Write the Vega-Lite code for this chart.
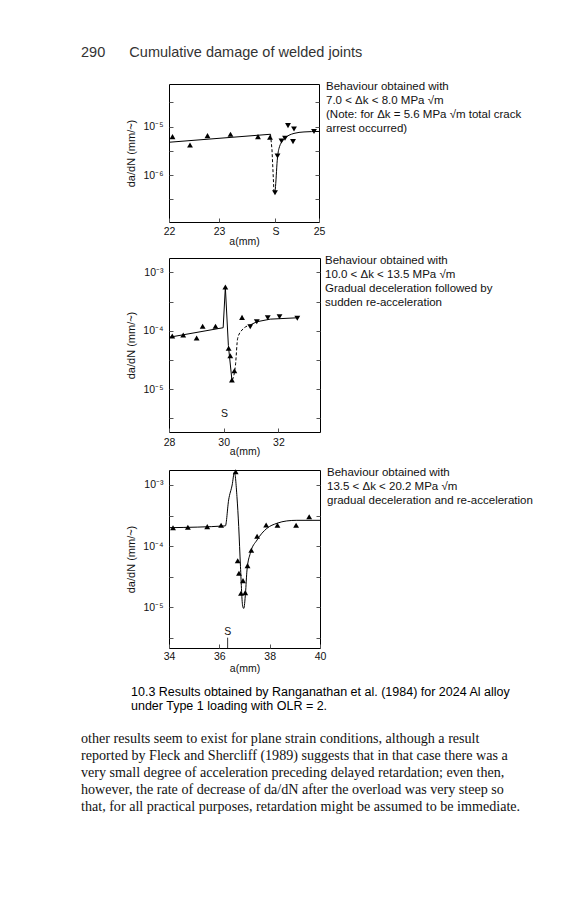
{
  "$schema": "https://vega.github.io/schema/vega-lite/v6.json",
  "background": "white",
  "padding": {"left": 81, "top": 44, "right": 5, "bottom": 5},
  "config": {
    "view": {"stroke": null},
    "font": "Liberation Sans",
    "axis": {
      "domain": false, "grid": false,
      "tickColor": "#555", "tickSize": -4, "tickWidth": 1,
      "labelFont": "Liberation Sans", "labelFontSize": 10.5, "labelColor": "#111",
      "titleFont": "Liberation Sans", "titleFontSize": 10.5, "titleFontWeight": "normal", "titleColor": "#111"
    }
  },
  "spacing": 4,
  "vconcat": [
    {
      "data": {"values": []}, "mark": "point", "width": 440, "height": 17,
      "title": {"text": "290\u00a0\u00a0\u00a0\u00a0\u00a0\u00a0Cumulative damage of welded joints", "anchor": "start", "frame": "group", "font": "Liberation Sans", "fontSize": 14.5, "fontWeight": "normal", "color": "#333", "offset": 0}
    },
    {
      "spacing": 0,
      "hconcat": [
        {"data": {"values": []}, "mark": "point", "width": 44, "height": 167},
        {
          "width": 150, "height": 138,
          "view": {"stroke": "black", "strokeWidth": 1},
          "data": {"values": [
            {"k": "up", "a": 22.07, "v": 6.21e-6}, {"k": "up", "a": 22.42, "v": 4.18e-6}, {"k": "up", "a": 22.77, "v": 6.52e-6},
            {"k": "up", "a": 23.23, "v": 6.95e-6}, {"k": "up", "a": 23.78, "v": 6.21e-6}, {"k": "up", "a": 24.02, "v": 6.03e-6},
            {"k": "down", "a": 24.17, "v": 2.47e-6}, {"k": "down", "a": 24.12, "v": 4.31e-7}, {"k": "down", "a": 24.25, "v": 5.06e-6},
            {"k": "down", "a": 24.32, "v": 5.75e-6}, {"k": "down", "a": 24.38, "v": 1.047e-5}, {"k": "down", "a": 24.5, "v": 8.95e-6},
            {"k": "down", "a": 24.48, "v": 4.9e-6}, {"k": "down", "a": 24.9, "v": 7.94e-6},
            {"k": "solid", "seg": "A", "a": 22, "v": 4.75e-6}, {"k": "solid", "seg": "A", "a": 24.03, "v": 6.95e-6},
            {"k": "dash", "seg": "D", "a": 24.03, "v": 6.95e-6}, {"k": "dash", "seg": "D", "a": 24.06, "v": 3.3e-6}, {"k": "dash", "seg": "D", "a": 24.1, "v": 4.31e-7},
            {"k": "solid", "seg": "B", "a": 24.12, "v": 4.31e-7}, {"k": "solid", "seg": "B", "a": 24.14, "v": 7.94e-7}, {"k": "solid", "seg": "B", "a": 24.16, "v": 1.74e-6},
            {"k": "solid", "seg": "B", "a": 24.2, "v": 3.55e-6}, {"k": "solid", "seg": "B", "a": 24.3, "v": 5.5e-6}, {"k": "solid", "seg": "B", "a": 24.5, "v": 7.24e-6},
            {"k": "solid", "seg": "B", "a": 24.7, "v": 7.76e-6}, {"k": "solid", "seg": "B", "a": 25, "v": 7.94e-6}
          ]},
          "layer": [
            {
              "encoding": {
                "x": {"field": "a", "type": "quantitative", "scale": {"domain": [22, 25], "nice": false, "zero": false},
                      "axis": {"values": [22, 23, 24.13, 25], "labelExpr": "datum.value == 24.13 ? 'S' : datum.label", "labelPadding": 8, "titlePadding": 0, "title": "a(mm)", "labelFlush": false}},
                "y": {"field": "v", "type": "quantitative", "scale": {"type": "log", "domain": [1.07e-7, 7.59e-5], "nice": false},
                      "axis": {"values": [3.162e-7, 1e-6, 3.162e-6, 1e-5, 3.162e-5], "labelExpr": "datum.value == 1e-6 ? '10⁻⁶' : datum.value == 1e-5 ? '10⁻⁵' : ''", "labelPadding": 10, "titlePadding": 6, "titleFontSize": 11, "title": "da/dN (mm/~)"}}
              },
              "layer": [
                {"transform": [{"filter": "datum.k == 'solid'"}], "mark": {"type": "line", "color": "black", "strokeWidth": 1, "interpolate": "monotone"}, "encoding": {"detail": {"field": "seg"}}},
                {"transform": [{"filter": "datum.k == 'dash'"}], "mark": {"type": "line", "color": "black", "strokeWidth": 1, "strokeDash": [3, 2]}, "encoding": {}},
                {"transform": [{"filter": "datum.k == 'up'"}], "mark": {"type": "point", "shape": "triangle-up", "filled": true, "color": "black", "size": 34, "opacity": 1}, "encoding": {}},
                {"transform": [{"filter": "datum.k == 'down'"}], "mark": {"type": "point", "shape": "triangle-down", "filled": true, "color": "black", "size": 34, "opacity": 1}, "encoding": {}}
              ]
            },
            {"transform": [{"filter": "datum.k == 'up'"}], "mark": {"type": "point", "opacity": 0},
             "encoding": {"y": {"field": "v", "type": "quantitative", "scale": {"type": "log", "domain": [1.07e-7, 7.59e-5], "nice": false},
               "axis": {"orient": "right", "labels": false, "title": null, "values": [3.162e-7, 1e-6, 3.162e-6, 1e-5, 3.162e-5]}}}}
          ],
          "resolve": {"axis": {"y": "independent"}}
        },
        {
          "data": {"values": []}, "mark": "point", "width": 200, "height": 1,
          "title": {"text": ["Behaviour obtained with", "7.0 < Δk < 8.0 MPa √m", "(Note: for Δk = 5.6 MPa √m  total crack", "arrest occurred)"], "orient": "bottom", "anchor": "start", "frame": "group", "align": "left", "baseline": "top", "offset": -4, "dx": 0, "font": "Liberation Sans", "fontSize": 11.5, "fontWeight": "normal", "lineHeight": 14, "color": "#111"}
        }
      ]
    },
    {
      "spacing": 0,
      "hconcat": [
        {"data": {"values": []}, "mark": "point", "width": 44, "height": 205},
        {
          "width": 151, "height": 174,
          "view": {"stroke": "black", "strokeWidth": 1},
          "data": {"values": [
            {"k": "up", "a": 28.12, "v": 8.15e-5}, {"k": "up", "a": 28.52, "v": 8.47e-5}, {"k": "up", "a": 29.01, "v": 7.53e-5},
            {"k": "up", "a": 29.23, "v": 1.194e-4}, {"k": "up", "a": 29.7, "v": 1.194e-4}, {"k": "up", "a": 30.06, "v": 5.62e-4},
            {"k": "up", "a": 30.18, "v": 5.01e-5}, {"k": "up", "a": 30.24, "v": 3.74e-5}, {"k": "up", "a": 30.3, "v": 1.436e-5},
            {"k": "up", "a": 30.39, "v": 2.07e-5}, {"k": "up", "a": 30.67, "v": 1.7e-4},
            {"k": "down", "a": 30.97, "v": 1.175e-4}, {"k": "down", "a": 31.21, "v": 1.43e-4}, {"k": "down", "a": 31.61, "v": 1.675e-4},
            {"k": "down", "a": 32.04, "v": 1.74e-4}, {"k": "down", "a": 32.69, "v": 1.637e-4},
            {"k": "solid", "seg": "A", "a": 28, "v": 7.74e-5}, {"k": "solid", "seg": "A", "a": 29.98, "v": 1.13e-4}, {"k": "solid", "seg": "A", "a": 30.06, "v": 5.62e-4},
            {"k": "solid", "seg": "A", "a": 30.17, "v": 5.62e-5}, {"k": "solid", "seg": "A", "a": 30.3, "v": 1.436e-5},
            {"k": "dash", "seg": "D", "a": 30.32, "v": 1.436e-5}, {"k": "dash", "seg": "D", "a": 30.43, "v": 2.59e-5}, {"k": "dash", "seg": "D", "a": 30.51, "v": 7.43e-5},
            {"k": "dash", "seg": "D", "a": 30.67, "v": 1.033e-4}, {"k": "dash", "seg": "D", "a": 30.97, "v": 1.259e-4},
            {"k": "solid", "seg": "B", "a": 30.97, "v": 1.259e-4}, {"k": "solid", "seg": "B", "a": 31.21, "v": 1.43e-4}, {"k": "solid", "seg": "B", "a": 31.7, "v": 1.585e-4},
            {"k": "solid", "seg": "B", "a": 32.73, "v": 1.675e-4},
            {"k": "S", "a": 30.03, "v": 3.75e-6, "t": "S"}
          ]},
          "layer": [
            {
              "encoding": {
                "x": {"field": "a", "type": "quantitative", "scale": {"domain": [28, 33.52], "nice": false, "zero": false},
                      "axis": {"values": [28, 30, 32], "labelPadding": 9.5, "titlePadding": -2, "title": "a(mm)", "labelFlush": false}},
                "y": {"field": "v", "type": "quantitative", "scale": {"type": "log", "domain": [1.845e-6, 1.77e-3], "nice": false},
                      "axis": {"values": [3.162e-6, 1e-5, 3.162e-5, 1e-4, 3.162e-4, 1e-3], "labelExpr": "datum.value == 1e-5 ? '10⁻⁵' : datum.value == 1e-4 ? '10⁻⁴' : datum.value == 1e-3 ? '10⁻³' : ''", "labelPadding": 10, "titlePadding": 6, "titleFontSize": 11, "title": "da/dN (mm/~)"}}
              },
              "layer": [
                {"transform": [{"filter": "datum.k == 'solid'"}], "mark": {"type": "line", "color": "black", "strokeWidth": 1}, "encoding": {"detail": {"field": "seg"}}},
                {"transform": [{"filter": "datum.k == 'dash'"}], "mark": {"type": "line", "color": "black", "strokeWidth": 1, "strokeDash": [3, 2], "interpolate": "monotone"}, "encoding": {}},
                {"transform": [{"filter": "datum.k == 'up'"}], "mark": {"type": "point", "shape": "triangle-up", "filled": true, "color": "black", "size": 34, "opacity": 1}, "encoding": {}},
                {"transform": [{"filter": "datum.k == 'down'"}], "mark": {"type": "point", "shape": "triangle-down", "filled": true, "color": "black", "size": 34, "opacity": 1}, "encoding": {}},
                {"transform": [{"filter": "datum.k == 'S'"}], "mark": {"type": "text", "font": "Liberation Sans", "fontSize": 10.5, "color": "#111"}, "encoding": {"text": {"field": "t"}}}
              ]
            },
            {"transform": [{"filter": "datum.k == 'up'"}], "mark": {"type": "point", "opacity": 0},
             "encoding": {"y": {"field": "v", "type": "quantitative", "scale": {"type": "log", "domain": [1.845e-6, 1.77e-3], "nice": false},
               "axis": {"orient": "right", "labels": false, "title": null, "values": [3.162e-6, 1e-5, 3.162e-5, 1e-4, 3.162e-4, 1e-3]}}}}
          ],
          "resolve": {"axis": {"y": "independent"}}
        },
        {
          "data": {"values": []}, "mark": "point", "width": 200, "height": 1,
          "title": {"text": ["Behaviour obtained with", "10.0 < Δk < 13.5 MPa √m", "Gradual deceleration followed by", "sudden re-acceleration"], "orient": "bottom", "anchor": "start", "frame": "group", "align": "left", "baseline": "top", "offset": -4, "dx": 4, "font": "Liberation Sans", "fontSize": 11.5, "fontWeight": "normal", "lineHeight": 14, "color": "#111"}
        }
      ]
    },
    {
      "spacing": 0,
      "hconcat": [
        {"data": {"values": []}, "mark": "point", "width": 44, "height": 212},
        {
          "width": 151, "height": 178,
          "view": {"stroke": "black", "strokeWidth": 1},
          "data": {"values": [
            {"k": "up", "a": 34.16, "v": 2.0e-4}, {"k": "up", "a": 34.75, "v": 2.03e-4}, {"k": "up", "a": 35.52, "v": 2.08e-4},
            {"k": "up", "a": 36.07, "v": 2.19e-4}, {"k": "up", "a": 36.65, "v": 1.652e-3}, {"k": "up", "a": 36.73, "v": 5.77e-5},
            {"k": "up", "a": 36.78, "v": 3.59e-5}, {"k": "up", "a": 36.86, "v": 1.687e-5}, {"k": "up", "a": 36.94, "v": 2.72e-5},
            {"k": "up", "a": 37.03, "v": 1.73e-5}, {"k": "up", "a": 37.12, "v": 4.79e-5}, {"k": "up", "a": 37.27, "v": 8.53e-5},
            {"k": "up", "a": 37.5, "v": 1.445e-4}, {"k": "up", "a": 37.86, "v": 2.21e-4}, {"k": "up", "a": 38.31, "v": 2.19e-4},
            {"k": "up", "a": 39.05, "v": 2.19e-4}, {"k": "up", "a": 39.57, "v": 3.03e-4},
            {"k": "solid", "seg": "A", "a": 34, "v": 2.0e-4}, {"k": "solid", "seg": "A", "a": 36.24, "v": 2.14e-4}, {"k": "solid", "seg": "A", "a": 36.37, "v": 5.69e-4},
            {"k": "solid", "seg": "A", "a": 36.51, "v": 1.0e-3}, {"k": "solid", "seg": "A", "a": 36.6, "v": 1.62e-3}, {"k": "solid", "seg": "A", "a": 36.7, "v": 6.46e-4},
            {"k": "solid", "seg": "A", "a": 36.77, "v": 2.09e-4}, {"k": "solid", "seg": "A", "a": 36.84, "v": 4.6e-5}, {"k": "solid", "seg": "A", "a": 36.93, "v": 1.023e-5},
            {"k": "solid", "seg": "A", "a": 36.97, "v": 9.55e-6}, {"k": "solid", "seg": "A", "a": 37.04, "v": 1.7e-5}, {"k": "solid", "seg": "A", "a": 37.1, "v": 4.07e-5},
            {"k": "solid", "seg": "A", "a": 37.23, "v": 7.62e-5}, {"k": "solid", "seg": "A", "a": 37.5, "v": 1.259e-4}, {"k": "solid", "seg": "A", "a": 37.89, "v": 1.95e-4},
            {"k": "solid", "seg": "A", "a": 38.29, "v": 2.36e-4}, {"k": "solid", "seg": "A", "a": 38.68, "v": 2.58e-4}, {"k": "solid", "seg": "A", "a": 39.08, "v": 2.64e-4},
            {"k": "solid", "seg": "A", "a": 40, "v": 2.64e-4},
            {"k": "S", "a": 36.33, "v": 3.97e-6, "t": "S"},
            {"k": "Stick", "a": 36.33, "v": 3.17e-6, "v2": 2.148e-6}
          ]},
          "layer": [
            {
              "encoding": {
                "x": {"field": "a", "type": "quantitative", "scale": {"domain": [34, 40], "nice": false, "zero": false},
                      "axis": {"values": [34, 36, 38, 40], "labelPadding": 7, "titlePadding": 2, "title": "a(mm)", "labelFlush": false}},
                "y": {"field": "v", "type": "quantitative", "scale": {"type": "log", "domain": [2.148e-6, 1.758e-3], "nice": false},
                      "axis": {"values": [3.162e-6, 1e-5, 3.162e-5, 1e-4, 3.162e-4, 1e-3], "labelExpr": "datum.value == 1e-5 ? '10⁻⁵' : datum.value == 1e-4 ? '10⁻⁴' : datum.value == 1e-3 ? '10⁻³' : ''", "labelPadding": 10, "titlePadding": 6, "titleFontSize": 11, "title": "da/dN (mm/~)"}}
              },
              "layer": [
                {"transform": [{"filter": "datum.k == 'solid'"}], "mark": {"type": "line", "color": "black", "strokeWidth": 1, "interpolate": "monotone"}, "encoding": {"detail": {"field": "seg"}}},
                {"transform": [{"filter": "datum.k == 'Stick'"}], "mark": {"type": "rule", "color": "#333", "strokeWidth": 1}, "encoding": {"y2": {"field": "v2"}}},
                {"transform": [{"filter": "datum.k == 'S'"}], "mark": {"type": "text", "font": "Liberation Sans", "fontSize": 10.5, "color": "#111"}, "encoding": {"text": {"field": "t"}}},
                {"transform": [{"filter": "datum.k == 'up'"}], "mark": {"type": "point", "shape": "triangle-up", "filled": true, "color": "black", "size": 34, "opacity": 1}, "encoding": {}}
              ]
            },
            {"transform": [{"filter": "datum.k == 'up'"}], "mark": {"type": "point", "opacity": 0},
             "encoding": {"y": {"field": "v", "type": "quantitative", "scale": {"type": "log", "domain": [2.148e-6, 1.758e-3], "nice": false},
               "axis": {"orient": "right", "labels": false, "title": null, "values": [3.162e-6, 1e-5, 3.162e-5, 1e-4, 3.162e-4, 1e-3]}}}}
          ],
          "resolve": {"axis": {"y": "independent"}}
        },
        {
          "data": {"values": []}, "mark": "point", "width": 200, "height": 1,
          "title": {"text": ["Behaviour obtained with", "13.5 < Δk < 20.2 MPa √m", "gradual deceleration and re-acceleration"], "orient": "bottom", "anchor": "start", "frame": "group", "align": "left", "baseline": "top", "offset": -4, "dx": -1, "font": "Liberation Sans", "fontSize": 11.5, "fontWeight": "normal", "lineHeight": 14, "color": "#111"}
        }
      ]
    },
    {
      "spacing": 0,
      "hconcat": [
        {"data": {"values": []}, "mark": "point", "width": 50, "height": 1},
        {
          "data": {"values": []}, "mark": "point", "width": 380, "height": 15,
          "title": {"text": ["10.3 Results obtained by Ranganathan et al. (1984) for 2024 Al alloy", "under Type 1 loading with OLR = 2."], "anchor": "start", "frame": "group", "font": "Liberation Sans", "fontSize": 12.5, "fontWeight": "normal", "lineHeight": 13.5, "color": "#000", "offset": 0}
        }
      ]
    },
    {
      "data": {"values": []}, "mark": "point", "width": 440, "height": 1,
      "title": {"text": [
        "other results seem to exist for plane strain conditions, although a result",
        "reported by Fleck and Shercliff (1989) suggests that in that case there was a",
        "very small degree of acceleration preceding delayed retardation; even then,",
        "however, the rate of decrease of da/dN after the overload was very steep so",
        "that, for all practical purposes, retardation might be assumed to be immediate."
      ], "anchor": "start", "frame": "group", "font": "Liberation Serif", "fontSize": 14.1, "fontWeight": "normal", "lineHeight": 17, "color": "#111", "offset": 0}
    }
  ]
}
